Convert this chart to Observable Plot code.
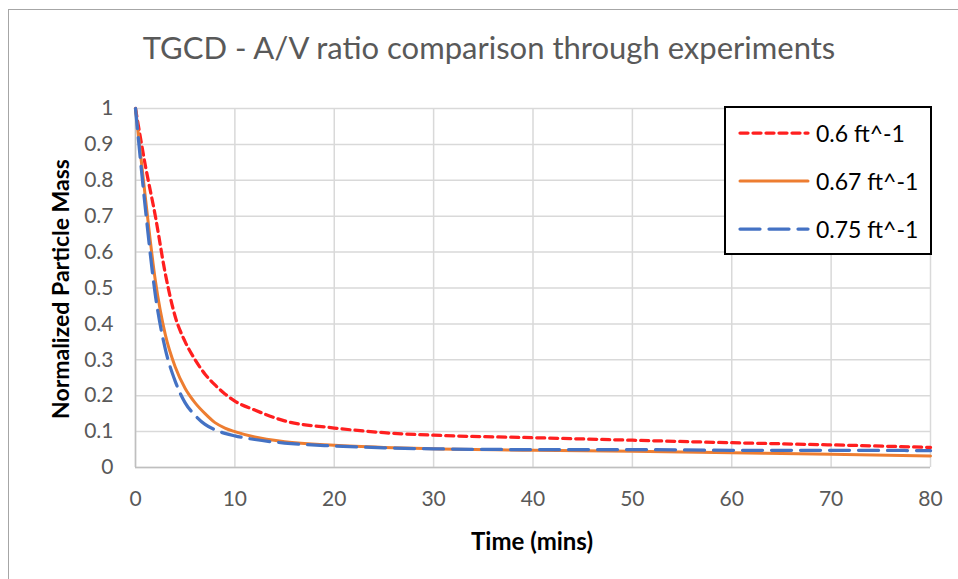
<!DOCTYPE html>
<html>
<head>
<meta charset="utf-8">
<script src="https://cdn.jsdelivr.net/npm/d3@7"></script>
<script src="https://cdn.jsdelivr.net/npm/@observablehq/plot@0.6"></script>
<style>
  html, body { margin: 0; padding: 0; background: #fff; }
  #wrap { position: relative; width: 958px; height: 579px; overflow: hidden; font-family: Lato, "Open Sans", sans-serif; }
  #frame { position: absolute; left: 8px; top: 9px; width: 1000px; height: 1000px; border-left: 1.5px solid #a6a6a6; border-top: 1.5px solid #a6a6a6; }
  #title { position: absolute; left: 0; width: 978px; top: 28px; text-align: center; font-size: 31px; color: #595959; }
  #ylab { position: absolute; left: 60px; top: 289px; transform: translate(-50%, -50%) rotate(-90deg); font-size: 23px; font-weight: bold; color: #000; white-space: nowrap; }
  #xlab { position: absolute; left: 532px; top: 540px; transform: translate(-50%, -50%); font-size: 24px; font-weight: bold; color: #000; white-space: nowrap; }
  #legend { position: absolute; left: 724px; top: 106px; width: 204px; height: 145px; border: 2px solid #000; background: #fff; }
  .row { position: absolute; left: 12px; height: 30px; display: flex; align-items: center; font-size: 23px; color: #000; white-space: nowrap; }
  .row svg { margin-right: 6px; }
  #chart { position: absolute; left: 0; top: 0; }
</style>
</head>
<body>
<div id="wrap">
  <div id="frame"></div>
  <div id="chart"></div>
  <div id="title">TGCD - A/V ratio comparison through experiments</div>
  <div id="ylab">Normalized Particle Mass</div>
  <div id="xlab">Time (mins)</div>
  <div id="legend"></div>
</div>
<script>
const time = [0, 1, 2, 3, 4, 5, 6, 7, 8, 9, 10, 12, 15, 20, 25, 30, 40, 50, 60, 70, 80];
const s060 = [1, 0.84, 0.70, 0.54, 0.42, 0.35, 0.30, 0.26, 0.23, 0.205, 0.185, 0.16, 0.13, 0.11, 0.097, 0.09, 0.083, 0.076, 0.069, 0.063, 0.056];
const s067 = [1, 0.75, 0.52, 0.37, 0.28, 0.22, 0.18, 0.15, 0.125, 0.11, 0.10, 0.085, 0.072, 0.062, 0.056, 0.052, 0.048, 0.045, 0.041, 0.037, 0.032];
const s075 = [1, 0.72, 0.48, 0.33, 0.24, 0.18, 0.145, 0.12, 0.105, 0.095, 0.088, 0.078, 0.068, 0.06, 0.055, 0.052, 0.050, 0.050, 0.048, 0.048, 0.047];
const seriesNames = ["0.6 ft^-1", "0.67 ft^-1", "0.75 ft^-1"];
const seriesValues = [s060, s067, s075];
const xTicks = [0, 10, 20, 30, 40, 50, 60, 70, 80];
const yTicks = [0, 0.1, 0.2, 0.3, 0.4, 0.5, 0.6, 0.7, 0.8, 0.9, 1];

const styles = [
  {stroke: "#ff1f1f", strokeWidth: 3.25, dash: "8,5"},
  {stroke: "#ed7d31", strokeWidth: 3, dash: null},
  {stroke: "#4472c4", strokeWidth: 3.25, dash: "20,9"}
];

const data = seriesNames.map((name, i) => time.map((t, j) => ({t, v: seriesValues[i][j], name})));

const fmtY = d => d === 0 ? "0" : d === 1 ? "1" : String(d);

const lineMarks = data.map((d, i) => Plot.line(d, {
  x: "t", y: "v", curve: "monotone-x",
  stroke: styles[i].stroke, strokeWidth: styles[i].strokeWidth,
  strokeDasharray: styles[i].dash, strokeLinecap: "round"
}));

const chart = Plot.plot({
  width: 958, height: 579,
  marginLeft: 135, marginRight: 28, marginTop: 108, marginBottom: 112,
  style: {fontFamily: "Lato, 'Open Sans', sans-serif", fontSize: "21px", color: "#595959", background: "transparent"},
  x: {domain: [0, 80], ticks: xTicks, tickSize: 0, tickPadding: 24, label: null},
  y: {domain: [0, 1], ticks: yTicks, tickSize: 0, tickPadding: 22, tickFormat: fmtY, label: null},
  marks: [
    Plot.gridX(xTicks, {stroke: "#d9d9d9", strokeOpacity: 1, strokeWidth: 1.5}),
    Plot.gridY(yTicks, {stroke: "#d9d9d9", strokeOpacity: 1, strokeWidth: 1.5}),
    Plot.ruleY([0], {stroke: "#bfbfbf", strokeWidth: 1.5}),
    Plot.ruleX([0], {stroke: "#bfbfbf", strokeWidth: 1.5}),
    ...lineMarks
  ]
});
document.getElementById("chart").appendChild(chart);

// legend
const legend = document.getElementById("legend");
const rowTops = [10, 58, 106];
seriesNames.forEach((name, i) => {
  const row = document.createElement("div");
  row.className = "row";
  row.style.top = rowTops[i] + "px";
  const svg = d3.create("svg").attr("width", 72).attr("height", 10);
  svg.append("line").attr("x1", 2).attr("x2", 70).attr("y1", 5).attr("y2", 5)
    .attr("stroke", styles[i].stroke).attr("stroke-width", styles[i].strokeWidth)
    .attr("stroke-dasharray", styles[i].dash).attr("stroke-linecap", "round");
  row.appendChild(svg.node());
  const span = document.createElement("span");
  span.textContent = name;
  row.appendChild(span);
  legend.appendChild(row);
});
</script>
</body>
</html>
